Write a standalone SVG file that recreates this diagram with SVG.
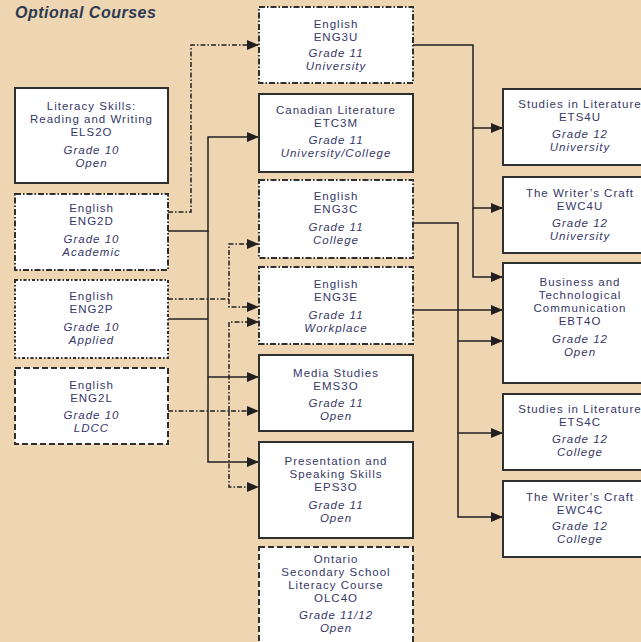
<svg xmlns="http://www.w3.org/2000/svg" width="641" height="642" viewBox="0 0 641 642">
<style>
.bg{fill:#EED6B3}
.box{fill:#fff;stroke:#2f2f2f;stroke-width:2}
.dd{stroke-dasharray:6 2 1.5 2}
.dp{stroke-dasharray:3 2 1.5 2}
.ds{stroke-dasharray:6 3}
text{font-family:"Liberation Sans",Arial,sans-serif;font-size:11.5px;letter-spacing:1px;fill:#363868;text-anchor:middle}
.i{font-style:italic}
.title{font-size:16px;font-weight:bold;font-style:italic;fill:#2d3a52;text-anchor:start;letter-spacing:0.5px}
.c{fill:none;stroke:#231f20;stroke-width:1.5;marker-end:url(#ah)}
.cd{fill:none;stroke:#231f20;stroke-width:1.5;stroke-dasharray:5 2 1.5 2}
.cda{marker-end:url(#ah)}
</style>
<defs>
<marker id="ah" markerUnits="userSpaceOnUse" markerWidth="12" markerHeight="10" refX="12" refY="5" orient="auto">
<path d="M0,0 L12,5 L0,10 z" fill="#231f20"/>
</marker>
</defs>
<rect class="bg" x="0" y="0" width="641" height="642"/>
<text class="title" x="15" y="18">Optional Courses</text>

<g id="connectors">
<path class="c" d="M413,45 H473 V128 H503"/>
<path class="c" d="M473,128 V208 H503"/>
<path class="c" d="M473,208 V277 H503"/>
<path class="c" d="M413,223 H458 V341 H503"/>
<path class="c" d="M458,341 V433 H503"/>
<path class="c" d="M458,433 V517 H503"/>
<path class="c" d="M413,310 H503"/>
<path class="c" d="M168,231 H208 V137 H259"/>
<path class="c" d="M208,231 V377 H259"/>
<path class="c" d="M208,377 V462 H259"/>
<path class="c" d="M168,319 H208" style="marker-end:none"/>
<path class="cd cda" d="M168,212 H191 V45 H259"/>
<path class="cd cda" d="M168,299 H229 V244 H259"/>
<path class="cd cda" d="M229,299 V307 H259"/>
<path class="cd cda" d="M168,411 H259"/>
<path class="cd cda" d="M229,411 V322 H259"/>
<path class="cd cda" d="M229,411 V487 H259"/>
</g>

<g id="ELS2O">
<rect class="box" x="15" y="88" width="153" height="95"/>
<text x="91.5" y="110">Literacy Skills:</text>
<text x="91.5" y="123">Reading and Writing</text>
<text x="91.5" y="136">ELS2O</text>
<text class="i" x="91.5" y="154">Grade 10</text>
<text class="i" x="91.5" y="167">Open</text>
</g>
<g id="ENG2D">
<rect class="box dd" x="15" y="194" width="153" height="76"/>
<text x="91.5" y="212">English</text>
<text x="91.5" y="225">ENG2D</text>
<text class="i" x="91.5" y="243">Grade 10</text>
<text class="i" x="91.5" y="256">Academic</text>
</g>
<g id="ENG2P">
<rect class="box dp" x="15" y="280" width="153" height="78"/>
<text x="91.5" y="300">English</text>
<text x="91.5" y="313">ENG2P</text>
<text class="i" x="91.5" y="331">Grade 10</text>
<text class="i" x="91.5" y="344">Applied</text>
</g>
<g id="ENG2L">
<rect class="box ds" x="15" y="368" width="153" height="76"/>
<text x="91.5" y="389">English</text>
<text x="91.5" y="402">ENG2L</text>
<text class="i" x="91.5" y="419">Grade 10</text>
<text class="i" x="91.5" y="432">LDCC</text>
</g>

<g id="ENG3U">
<rect class="box dd" x="259" y="7" width="154" height="76"/>
<text x="336" y="28">English</text>
<text x="336" y="41">ENG3U</text>
<text class="i" x="336" y="57">Grade 11</text>
<text class="i" x="336" y="70">University</text>
</g>
<g id="ETC3M">
<rect class="box" x="259" y="94" width="154" height="78"/>
<text x="336" y="114">Canadian Literature</text>
<text x="336" y="127">ETC3M</text>
<text class="i" x="336" y="144">Grade 11</text>
<text class="i" x="336" y="157">University/College</text>
</g>
<g id="ENG3C">
<rect class="box dd" x="259" y="180" width="154" height="78"/>
<text x="336" y="200">English</text>
<text x="336" y="213">ENG3C</text>
<text class="i" x="336" y="231">Grade 11</text>
<text class="i" x="336" y="244">College</text>
</g>
<g id="ENG3E">
<rect class="box dd" x="259" y="267" width="154" height="77"/>
<text x="336" y="288">English</text>
<text x="336" y="301">ENG3E</text>
<text class="i" x="336" y="319">Grade 11</text>
<text class="i" x="336" y="332">Workplace</text>
</g>
<g id="EMS3O">
<rect class="box" x="259" y="355" width="154" height="76"/>
<text x="336" y="377">Media Studies</text>
<text x="336" y="390">EMS3O</text>
<text class="i" x="336" y="407">Grade 11</text>
<text class="i" x="336" y="420">Open</text>
</g>
<g id="EPS3O">
<rect class="box" x="259" y="442" width="154" height="96"/>
<text x="336" y="465">Presentation and</text>
<text x="336" y="478">Speaking Skills</text>
<text x="336" y="491">EPS3O</text>
<text class="i" x="336" y="509">Grade 11</text>
<text class="i" x="336" y="522">Open</text>
</g>
<g id="OLC4O">
<rect class="box ds" x="259" y="547" width="154" height="100"/>
<text x="336" y="563">Ontario</text>
<text x="336" y="576">Secondary School</text>
<text x="336" y="589">Literacy Course</text>
<text x="336" y="602">OLC4O</text>
<text class="i" x="336" y="619">Grade 11/12</text>
<text class="i" x="336" y="632">Open</text>
</g>

<g id="ETS4U">
<rect class="box" x="503" y="89" width="154" height="76"/>
<text x="580" y="108">Studies in Literature</text>
<text x="580" y="121">ETS4U</text>
<text class="i" x="580" y="138">Grade 12</text>
<text class="i" x="580" y="151">University</text>
</g>
<g id="EWC4U">
<rect class="box" x="503" y="177" width="154" height="76"/>
<text x="580" y="197">The Writer’s Craft</text>
<text x="580" y="210">EWC4U</text>
<text class="i" x="580" y="227">Grade 12</text>
<text class="i" x="580" y="240">University</text>
</g>
<g id="EBT4O">
<rect class="box" x="503" y="263" width="154" height="120"/>
<text x="580" y="286">Business and</text>
<text x="580" y="299">Technological</text>
<text x="580" y="312">Communication</text>
<text x="580" y="325">EBT4O</text>
<text class="i" x="580" y="343">Grade 12</text>
<text class="i" x="580" y="356">Open</text>
</g>
<g id="ETS4C">
<rect class="box" x="503" y="394" width="154" height="76"/>
<text x="580" y="413">Studies in Literature</text>
<text x="580" y="426">ETS4C</text>
<text class="i" x="580" y="443">Grade 12</text>
<text class="i" x="580" y="456">College</text>
</g>
<g id="EWC4C">
<rect class="box" x="503" y="481" width="154" height="76"/>
<text x="580" y="501">The Writer’s Craft</text>
<text x="580" y="514">EWC4C</text>
<text class="i" x="580" y="530">Grade 12</text>
<text class="i" x="580" y="543">College</text>
</g>
</svg>
